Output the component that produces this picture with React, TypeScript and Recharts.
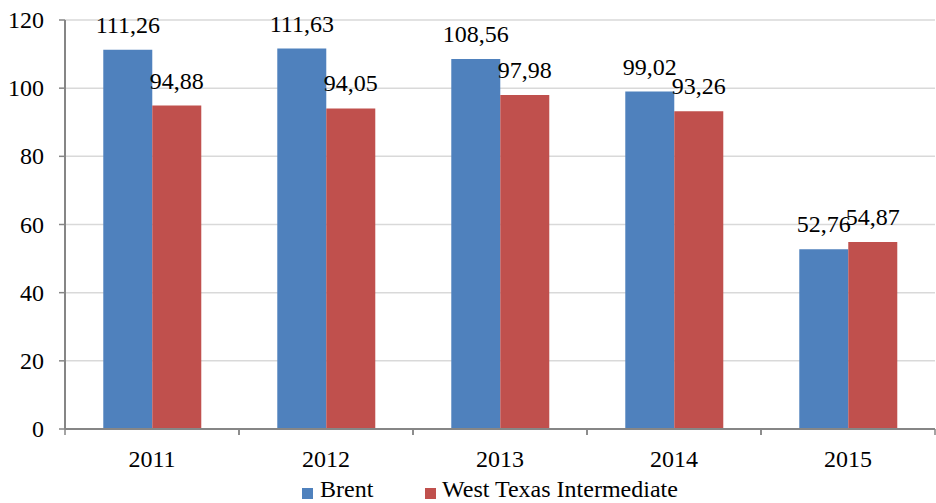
import React from "react";
import { BarChart, Bar, XAxis, YAxis, CartesianGrid, Legend, LabelList } from "recharts";

const years = ["2011", "2012", "2013", "2014", "2015"];
const brent = [111.26, 111.63, 108.56, 99.02, 52.76];
const wti = [94.88, 94.05, 97.98, 93.26, 54.87];
const yTicks = [0, 20, 40, 60, 80, 100, 120];
const seriesNames = ["Brent", "West Texas Intermediate"];
const colors = ["#4f81bd", "#c0504d"];

const data = years.map((y, i) => ({ year: y, brent: brent[i], wti: wti[i] }));

const FONT = "Liberation Serif";
const FS = 24;
const fmt = (v: any) => Number(v).toFixed(2).replace(".", ",");

const XTick = (props: any) => {
  const { x, y, payload } = props;
  const off = payload && payload.offset ? payload.offset : 87;
  return (
    <g>
      <line x1={x - off} y1={y} x2={x - off} y2={y + 6} stroke="#868686" strokeWidth={1.5} />
      <line x1={x + off} y1={y} x2={x + off} y2={y + 6} stroke="#868686" strokeWidth={1.5} />
      <text x={x} y={y + 38} textAnchor="middle" fontFamily={FONT} fontSize={FS} fill="#000">
        {payload.value}
      </text>
    </g>
  );
};

const YTick = (props: any) => {
  const { x, y, payload } = props;
  return (
    <text x={x} y={y} dy={8} textAnchor="end" fontFamily={FONT} fontSize={FS} fill="#000">
      {payload.value}
    </text>
  );
};

const BarLabel = (props: any) => {
  const { x, y, width, value } = props;
  return (
    <text x={x + width / 2} y={y - 17} textAnchor="middle" fontFamily={FONT} fontSize={FS} fill="#000">
      {fmt(value)}
    </text>
  );
};

const LegendContent = () => (
  <div style={{ position: "relative", height: 30, width: "100%", fontFamily: FONT, fontSize: FS, lineHeight: "20px", color: "#000" }}>
    <div style={{ position: "absolute", left: 302, top: 15, width: 11, height: 11, background: colors[0] }} />
    <div style={{ position: "absolute", left: 320, top: 6, whiteSpace: "nowrap" }}>{seriesNames[0]}</div>
    <div style={{ position: "absolute", left: 425, top: 15, width: 11, height: 11, background: colors[1] }} />
    <div style={{ position: "absolute", left: 442, top: 6, whiteSpace: "nowrap" }}>{seriesNames[1]}</div>
  </div>
);

export default function App() {
  return (
    <div style={{ position: "absolute", left: 0, top: 0, background: "#fff", fontFamily: FONT }}>
      <BarChart
        width={936}
        height={503}
        data={data}
        margin={{ top: 20, right: 1, left: 0, bottom: 0 }}
        barCategoryGap="22%"
        barGap={0}
      >
        <CartesianGrid vertical={false} stroke="#d9d9d9" strokeWidth={1.5} />
        <XAxis
          dataKey="year"
          height={44}
          tickLine={false}
          tickSize={0}
          tickMargin={0}
          axisLine={{ stroke: "#868686", strokeWidth: 2 }}
          tick={<XTick />}
          interval={0}
        />
        <YAxis
          width={65}
          domain={[0, 120]}
          ticks={yTicks}
          tickSize={6}
          tickMargin={15}
          axisLine={{ stroke: "#868686", strokeWidth: 2 }}
          tickLine={{ stroke: "#868686", strokeWidth: 1.5 }}
          tick={<YTick />}
        />
        <Legend verticalAlign="bottom" height={30} content={<LegendContent />} wrapperStyle={{ height: 30 }} />
        <Bar dataKey="brent" name={seriesNames[0]} fill={colors[0]} isAnimationActive={false}>
          <LabelList dataKey="brent" content={<BarLabel />} />
        </Bar>
        <Bar dataKey="wti" name={seriesNames[1]} fill={colors[1]} isAnimationActive={false}>
          <LabelList dataKey="wti" content={<BarLabel />} />
        </Bar>
      </BarChart>
    </div>
  );
}
